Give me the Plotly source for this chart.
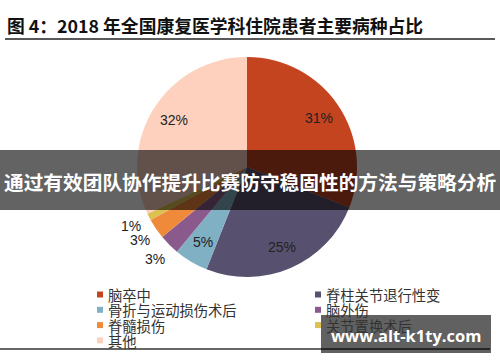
import math
import plotly.graph_objects as go

categories = ["脑卒中", "脊柱关节退行性变", "骨折与运动损伤术后", "脑外伤", "脊髓损伤", "关节置换术后", "其他"]
values = [31, 25, 5, 3, 3, 1, 32]
colors = ["#c4441f", "#58506f", "#80b0c4", "#8a5a8c", "#ef8a3a", "#dcc050", "#fdd1be"]
inside_label = [True, True, True, False, False, False, True]

title_text = "图 4：2018 年全国康复医学科住院患者主要病种占比"
banner_text = "通过有效团队协作提升比赛防守稳固性的方法与策略分析"
watermark_text = "www.alt-k1ty.com"

W, H = 500, 362
cx, cy, r = 247, 167, 110
label_font = dict(family="Liberation Sans, Arial", size=14, color="#222222")

total = sum(values)

fig = go.Figure(go.Pie(
    labels=categories,
    values=values,
    marker=dict(colors=colors, line=dict(width=0)),
    sort=False,
    direction="clockwise",
    rotation=0,
    textinfo="none",
    hoverinfo="label+percent",
    domain=dict(x=[(cx - r) / W, (cx + r) / W], y=[1 - (cy + r) / H, 1 - (cy - r) / H]),
    automargin=False,
    showlegend=False,
))

# data labels placed along each slice's mid-angle (inside ~0.79R, outside ~1.18R)
cum = 0
for v, ins in zip(values, inside_label):
    mid = (cum + v / 2) / total * 2 * math.pi
    cum += v
    rl = r * (0.79 if ins else 1.18)
    px = cx + rl * math.sin(mid)
    py = cy - rl * math.cos(mid)
    fig.add_annotation(text=f"{round(v / total * 100)}%", xref="paper", yref="paper",
                       x=px / W, y=1 - py / H, xanchor="center", yanchor="middle",
                       showarrow=False, font=label_font)

# legend: two columns, row-major order
shapes = []
leg_x = [100, 318]
leg_y0, leg_dy = 294.5, 15.3
for i, (name, col) in enumerate(zip(categories, colors)):
    lx = leg_x[i % 2]
    ly = leg_y0 + (i // 2) * leg_dy
    shapes.append(dict(type="rect", xref="paper", yref="paper",
                       x0=(lx - 3) / W, x1=(lx + 3) / W, y0=1 - (ly + 3) / H, y1=1 - (ly - 3) / H,
                       fillcolor=col, line=dict(width=0)))
    fig.add_annotation(text=name, xref="paper", yref="paper",
                       x=(lx + 7) / W, y=1 - ly / H, xanchor="left", yanchor="middle",
                       showarrow=False, borderpad=0,
                       font=dict(family="Noto Sans CJK SC", size=14.3, color="#333333"))

fig.update_layout(
    width=W, height=H,
    margin=dict(l=0, r=0, t=0, b=0, autoexpand=False),
    paper_bgcolor="white",
    plot_bgcolor="white",
    showlegend=False,
    font=dict(family="Noto Sans CJK SC"),
)

shapes += [
    dict(type="line", xref="paper", yref="paper", x0=5 / W, x1=495 / W, y0=1 - 39 / H, y1=1 - 39 / H,
         line=dict(color="#222222", width=1.5)),
    dict(type="line", xref="paper", yref="paper", x0=0, x1=490 / W, y0=1 - 349 / H, y1=1 - 349 / H,
         line=dict(color="#333333", width=1.5)),
    dict(type="rect", xref="paper", yref="paper", x0=0, x1=1, y0=1 - 210 / H, y1=1 - 150 / H,
         fillcolor="rgba(0,0,0,0.61)", line=dict(width=0), layer="above"),
    dict(type="rect", xref="paper", yref="paper", x0=321 / W, x1=491 / W, y0=1 - 353 / H, y1=1 - 315 / H,
         fillcolor="rgba(0,0,0,0.62)", line=dict(width=0), layer="above"),
]
fig.update_layout(shapes=shapes)

fig.add_annotation(text="<b>" + title_text + "</b>", xref="paper", yref="paper",
                   x=5 / W, y=1 - 25 / H, xanchor="left", yanchor="middle", showarrow=False,
                   font=dict(family="Noto Sans CJK SC", size=17.8, color="#111111"))
fig.add_annotation(text="<b>" + banner_text + "</b>", xref="paper", yref="paper",
                   x=0.5, y=1 - 181 / H, xanchor="center", yanchor="middle", showarrow=False,
                   font=dict(family="Noto Sans CJK SC", size=19.7, color="white"))
fig.add_annotation(text="<b>" + watermark_text + "</b>", xref="paper", yref="paper",
                   x=406 / W, y=1 - 335 / H, xanchor="center", yanchor="middle", showarrow=False,
                   font=dict(family="Open Sans, Liberation Sans", size=16.5, color="white"))

fig.write_html("out.html", config={"displayModeBar": False},
               post_script="document.body.style.margin='0';")
